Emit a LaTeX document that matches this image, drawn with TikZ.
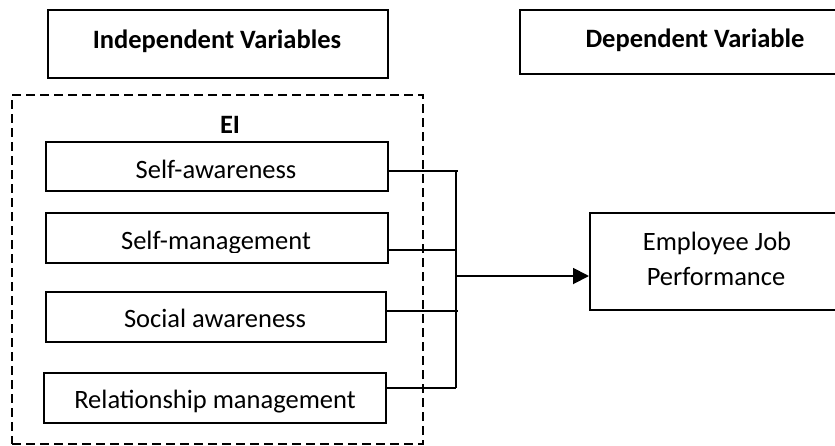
\documentclass[tikz,border=0pt]{standalone}
\usepackage{fontspec}
\setmainfont{Carlito}
\usetikzlibrary{arrows.meta}
\begin{document}
\begin{tikzpicture}[x=1pt,y=-1pt,
  box/.style={draw, line width=2pt, inner sep=0pt},
  dbox/.style={draw, line width=1.5pt, dash pattern=on 9pt off 5pt, inner sep=0pt},
  lbl/.style={anchor=base, inner sep=0pt, font=\fontsize{26.5}{32}\selectfont},
  hdr/.style={anchor=base, inner sep=0pt, font=\fontsize{26.5}{32}\selectfont\bfseries},
  conn/.style={line width=1.9pt}]
\useasboundingbox (0,0) rectangle (835,445);
% boxes
\node[box, minimum width=340pt, minimum height=68pt] (iv) at (218,44) {};
\node[box, minimum width=320pt, minimum height=64pt] (dv) at (680,42) {};
\node[dbox, minimum width=411pt, minimum height=349pt] (ei) at (217.5,269.5) {};
\node[box, minimum width=342pt, minimum height=49pt] (sa) at (217,166.5) {};
\node[box, minimum width=342pt, minimum height=50pt] (sm) at (217,238) {};
\node[box, minimum width=340pt, minimum height=50pt] (soc) at (216,317) {};
\node[box, minimum width=342pt, minimum height=50pt] (rm) at (215,398) {};
\node[box, minimum width=250pt, minimum height=97pt] (ejp) at (715,261.5) {};
% texts
\node[hdr] (tiv) at (217,48) {Independent Variables};
\node[hdr] (tdv) at (695,47) {Dependent Variable};
\node[hdr] (tei) at (230,133) {EI};
\node[lbl] (tsa) at (216,178) {Self-awareness};
\begin{scope}
\clip (40,200) rectangle (395,252.5);
\node[lbl] (tsm) at (216,249) {Self-management};
\end{scope}
\node[lbl] (tsoc) at (215,327) {Social awareness};
\begin{scope}
\clip (40,380) rectangle (395,412);
\node[lbl] (trm) at (215,408) {Relationship management};
\end{scope}
\node[lbl] (tejp1) at (717,250) {Employee Job};
\node[lbl] (tejp2) at (716,285) {Performance};
% connectors
\coordinate (b1) at (458,171);
\coordinate (b2) at (456,250);
\coordinate (b3) at (458,311);
\coordinate (b4) at (456,388);
\coordinate (bt) at (456,171);
\coordinate (bm) at (456,276);
\draw[conn] (sa.east |- b1) -- (b1);
\draw[conn] (sm.east |- b2) -- (b2);
\draw[conn] (soc.east |- b3) -- (b3);
\draw[conn] (rm.east |- b4) -- (b4);
\draw[conn] (bt) -- (b4);
\draw[conn, -{Triangle[length=16pt,width=16pt]}] (bm) -- (ejp.west |- bm);
\end{tikzpicture}
\end{document}
